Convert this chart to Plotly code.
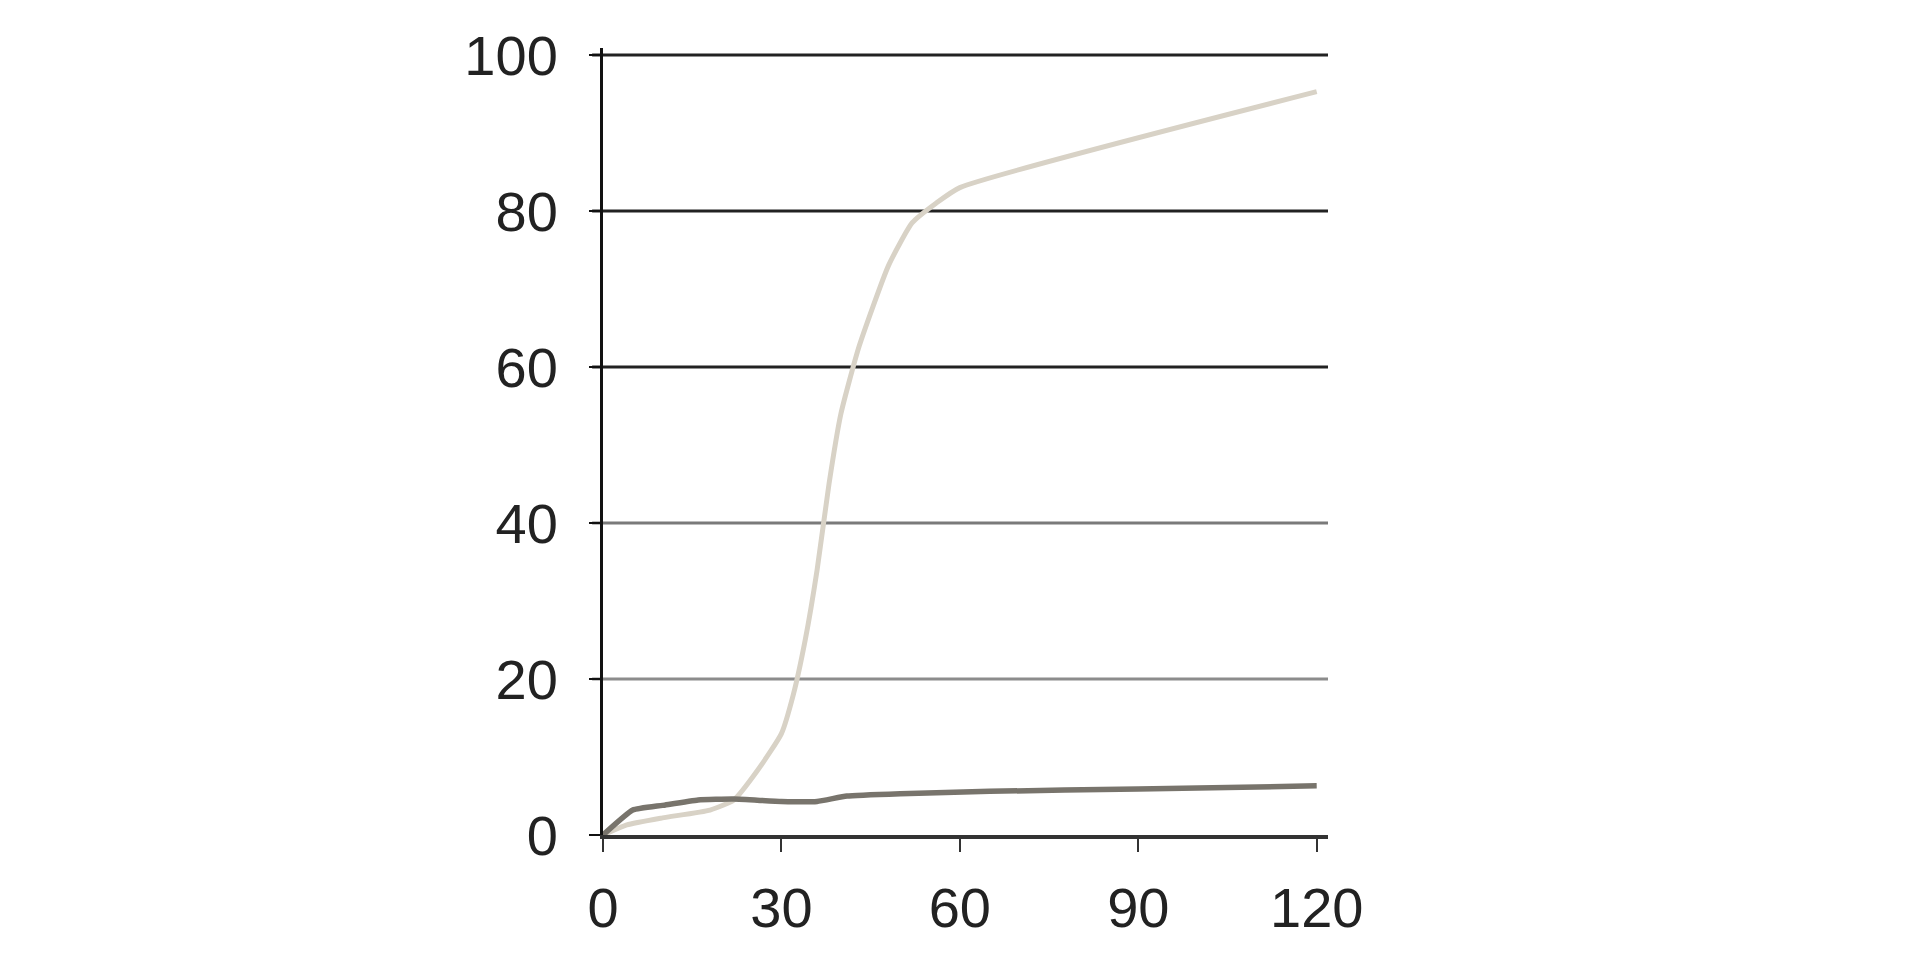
import plotly.graph_objects as go

# dane
czas = [0, 4, 10, 18, 22, 26, 30, 32, 34, 36, 38, 40, 43, 48, 52, 56, 60, 120]
seria_jasna = [0, 1.3, 2.2, 3.2, 4.5, 8.3, 13, 18, 25, 34, 45, 54, 62.5, 73, 78.5, 81, 83, 95.3]

czas_ciemna = [0, 5, 10, 16, 22, 30, 36, 41, 50, 65, 90, 120]
seria_ciemna = [0, 3.2, 3.8, 4.5, 4.6, 4.3, 4.3, 5.0, 5.3, 5.6, 5.9, 6.3]

x_ticks = [0, 30, 60, 90, 120]
y_ticks = [0, 20, 40, 60, 80, 100]
linie_siatki = [20, 40, 60, 80, 100]
kolory_siatki = ["#8c8c8c", "#7a7a7a", "#222222", "#222222", "#222222"]

czcionka = dict(family="Liberation Sans, Arial, sans-serif", size=56, color="#222222")

fig = go.Figure()

fig.add_trace(go.Scatter(
    x=czas, y=seria_jasna, mode="lines",
    line=dict(color="#d8d2c6", width=5, shape="spline", smoothing=0.5),
    showlegend=False,
))
fig.add_trace(go.Scatter(
    x=czas_ciemna, y=seria_ciemna, mode="lines",
    line=dict(color="#78746c", width=5.5, shape="spline", smoothing=0.4),
    showlegend=False,
))

# linie siatki w różnych odcieniach
for wartosc, kolor in zip(linie_siatki, kolory_siatki):
    fig.add_shape(
        type="line", xref="paper", yref="y",
        x0=-0.015, x1=1, y0=wartosc, y1=wartosc,
        line=dict(color=kolor, width=3), layer="below",
    )

fig.update_xaxes(
    range=[0, 121.9], tickvals=x_ticks,
    showgrid=False, zeroline=False,
    showline=True, linecolor="#333333", linewidth=3.5,
    ticks="outside", ticklen=13, tickwidth=2, tickcolor="#333333",
    tickfont=czcionka, ticklabelstandoff=8,
)
fig.update_yaxes(
    range=[0, 100.9], tickvals=y_ticks,
    showgrid=False, zeroline=False,
    showline=True, linecolor="#111111", linewidth=3,
    ticks="outside", ticklen=11, tickwidth=2, tickcolor="#111111",
    tickfont=czcionka, ticklabelstandoff=20,
)

# strona ma 8 px marginesu, stąd przesunięcie
fig.update_layout(
    width=1920, height=960,
    margin=dict(l=595, r=600, t=40, b=133),
    plot_bgcolor="white", paper_bgcolor="white",
)

fig.write_html("out.html")
